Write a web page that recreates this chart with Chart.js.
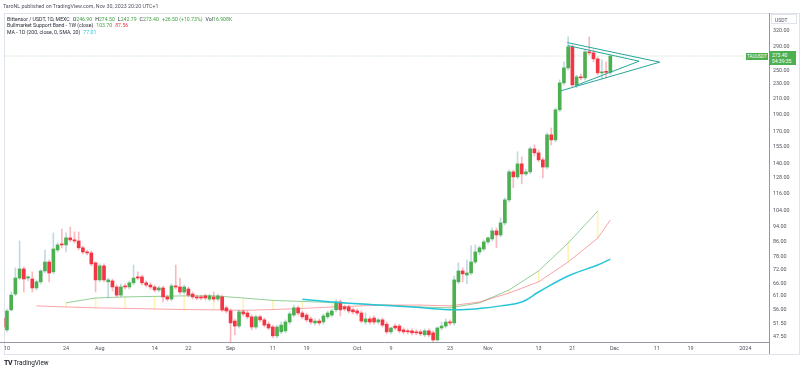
<!DOCTYPE html>
<html>
<head>
<meta charset="utf-8">
<title>TAOUSDT 1D</title>
<script src="https://cdn.jsdelivr.net/npm/chart.js@4.4.0/dist/chart.umd.min.js"></script>
<style>
  body { margin: 0; background: #fff; font-family: Roboto, "Noto Sans", sans-serif; }
  #wrap { position: relative; width: 800px; height: 370px; overflow: hidden; }
  #chart { position: absolute; left: 0; top: 0; }
  .txt { position: absolute; white-space: nowrap; color: #2a2e39; font-size: 5.2px; line-height: 7px; }
  .txt .g { margin-left: 3px; }
  .up { color: #43a047; }
  .dn { color: #f23645; }
  .ma { color: #26c6da; }
  .box { position: absolute; background: #4caf50; color: #fff; text-align: center; }
</style>
</head>
<body>
<div id="wrap">
  <canvas id="chart" width="800" height="370"></canvas>
  <div class="txt" style="left:3px;top:2.5px;font-size:5.3px;color:#50535e">TaroNL published on TradingView.com, Nov 30, 2023 20:20 UTC+1</div>
  <div class="txt" style="left:7px;top:15.5px">Bittensor / USDT, 1D, MEXC<span class="g">O<span class="up">246.90</span></span><span class="g">H<span class="up">274.50</span></span><span class="g">L<span class="up">242.79</span></span><span class="g">C<span class="up">273.40</span></span><span class="g up">+26.50 (+10.73%)</span><span class="g">Vol<span class="up">16.908K</span></span></div>
  <div class="txt" style="left:7px;top:22px">Bullmarket Support Band - 1W (close)<span class="g up">103.70</span><span class="g dn">87.56</span></div>
  <div class="txt" style="left:7px;top:29px">MA - 1D (200, close, 0, SMA, 20)<span class="g ma">77.01</span></div>
  <div class="txt" style="left:771px;top:14px;width:26px;height:10px;line-height:10px;border:1px solid #e0e3eb;box-sizing:border-box;padding-left:3px;font-size:5px;color:#50535e">USDT</div>
  <div class="box" style="left:746px;top:52.5px;width:22px;height:7px;line-height:7px;font-size:4.6px">TAOUSDT</div>
  <div class="box" style="left:769px;top:50.5px;width:27px;height:14px;font-size:5px;line-height:6px;padding-top:1px;box-sizing:border-box;text-align:left;padding-left:3px">273.40<br>04:39:35</div>
  <div class="txt" style="left:4px;top:358.5px;font-size:6.4px;line-height:8px;color:#131722"><b style="font-size:7px;letter-spacing:-0.5px">TV</b> TradingView</div>
</div>
<script>
// TAO / USDT daily candles, first candle is Jul 9 2023
const candleStart = '2023-07-09';
const opens = [53.2, 49.4, 56.0, 61.8, 68.3, 72.3, 68.3, 67.9, 64.2, 66.7, 71.4, 75.5, 71.0, 81.4, 84.5, 84.0, 87.8, 86.7, 86.1, 82.5,
  80.4, 79.9, 75.1, 67.5, 73.7, 66.7, 67.1, 64.6, 61.4, 65.0, 64.6, 66.3, 68.8, 68.8, 66.3, 65.4, 64.6, 63.4, 64.2, 60.7,
  59.9, 65.0, 64.6, 62.6, 63.8, 61.8, 60.7, 60.7, 61.1, 59.9, 60.7, 59.9, 60.7, 56.7, 55.6, 52.2, 50.6, 55.3, 54.9, 53.6,
  50.3, 53.6, 52.6, 51.2, 50.3, 47.6, 48.8, 49.1, 51.9, 54.2, 56.7, 54.9, 54.2, 52.9, 51.6, 52.2, 51.9, 53.6, 54.2, 56.0,
  58.8, 57.0, 57.0, 56.0, 55.6, 54.9, 51.9, 52.9, 53.2, 51.9, 52.6, 51.2, 48.8, 50.6, 50.6, 49.4, 49.1, 49.1, 48.8, 48.8,
  47.9, 49.1, 48.5, 46.4, 50.0, 50.6, 51.9, 51.6, 66.7, 71.4, 69.6, 70.5, 75.5, 80.4, 81.9, 85.6, 87.2, 91.7, 89.4, 96.4,
  111.3, 132.6, 128.5, 139.4, 130.9, 132.6, 153.1, 149.3, 142.9, 136.7, 167.1, 161.9, 195.4, 231.2, 253.9, 289.6, 228.3, 240.1, 238.6, 280.6,
  278.9, 268.6, 246.1, 247.7, 246.9];
const highs = [53.9, 56.3, 62.6, 72.8, 86.1, 73.2, 69.2, 71.0, 67.5, 71.9, 81.4, 76.4, 90.6, 85.0, 92.8, 90.6, 94.0, 91.1, 91.1, 83.5,
  81.4, 80.9, 75.5, 74.6, 74.6, 68.3, 67.9, 65.4, 65.9, 65.9, 67.1, 74.1, 71.0, 69.6, 67.1, 66.3, 65.4, 65.0, 65.0, 61.4,
  65.9, 74.1, 68.3, 65.4, 64.6, 62.6, 61.4, 61.4, 61.8, 61.8, 62.6, 61.8, 61.4, 57.4, 56.3, 52.9, 56.0, 56.0, 55.6, 54.2,
  54.2, 54.2, 53.2, 51.9, 50.9, 50.9, 51.9, 52.6, 55.3, 57.7, 57.4, 55.6, 54.9, 53.6, 52.9, 52.9, 54.6, 55.6, 56.3, 59.6,
  59.6, 57.7, 57.7, 56.7, 56.3, 55.6, 54.9, 53.6, 53.9, 53.2, 53.2, 51.9, 50.3, 51.2, 51.2, 50.0, 49.7, 49.7, 49.4, 49.4,
  49.7, 49.7, 49.1, 50.3, 51.9, 52.9, 52.6, 69.2, 75.1, 72.8, 76.4, 83.5, 84.0, 83.5, 86.7, 88.3, 93.4, 93.4, 99.5, 112.7,
  134.2, 134.2, 150.3, 145.6, 135.0, 155.0, 156.9, 152.1, 144.7, 169.2, 174.5, 197.8, 235.6, 263.7, 308.3, 293.2, 243.0, 244.6, 284.2, 308.3,
  284.2, 272.0, 266.9, 263.7, 274.5];
const lows = [49.7, 48.8, 55.6, 61.1, 67.5, 62.6, 67.1, 62.6, 63.4, 65.9, 70.5, 66.7, 70.1, 80.4, 82.5, 80.4, 85.6, 85.0, 81.4, 79.4,
  78.9, 73.7, 62.6, 66.7, 66.7, 60.3, 63.0, 60.7, 60.7, 63.8, 63.8, 65.4, 67.5, 65.4, 64.6, 63.8, 62.6, 62.6, 58.8, 59.2,
  59.2, 63.8, 61.8, 61.8, 60.7, 59.9, 59.6, 59.6, 59.6, 59.2, 59.2, 59.2, 55.3, 54.9, 45.8, 47.9, 50.0, 53.9, 52.9, 49.4,
  49.7, 51.9, 50.3, 49.4, 47.0, 47.0, 48.2, 48.5, 51.2, 53.6, 54.2, 52.9, 51.9, 51.2, 50.9, 50.9, 51.2, 52.9, 53.6, 55.3,
  53.9, 55.6, 54.9, 54.6, 54.2, 51.6, 51.2, 51.2, 51.2, 51.2, 50.3, 48.2, 48.2, 49.4, 48.5, 48.2, 48.2, 47.9, 47.9, 47.6,
  47.3, 47.3, 45.8, 46.1, 49.4, 50.0, 50.9, 50.9, 65.9, 66.7, 65.9, 69.6, 74.6, 78.9, 80.9, 84.5, 86.1, 82.5, 88.3, 95.2,
  109.9, 120.0, 126.9, 123.0, 129.3, 130.9, 146.5, 141.1, 127.7, 135.0, 156.9, 159.9, 192.9, 228.3, 250.8, 225.5, 224.1, 235.6, 235.6, 275.4,
  263.7, 243.0, 237.1, 238.6, 242.79];
const closes = [50.3, 55.6, 61.4, 68.3, 72.3, 67.9, 68.8, 64.2, 66.7, 71.4, 75.5, 70.5, 81.9, 84.0, 84.0, 87.8, 86.7, 86.1, 82.5, 80.4,
  79.9, 74.6, 67.5, 73.7, 67.5, 67.5, 64.6, 61.4, 64.6, 64.6, 66.3, 68.3, 68.3, 66.3, 65.4, 64.6, 63.4, 64.2, 60.7, 59.9,
  65.0, 64.6, 62.6, 64.6, 61.4, 60.7, 60.3, 60.3, 60.3, 61.1, 59.9, 61.1, 56.0, 55.6, 51.6, 50.6, 55.3, 54.6, 53.6, 50.3,
  53.6, 52.6, 50.9, 50.0, 47.6, 50.3, 50.9, 51.9, 54.6, 56.7, 54.9, 53.6, 52.6, 51.9, 52.2, 51.6, 53.9, 54.9, 55.6, 58.8,
  56.0, 56.3, 55.6, 55.3, 54.9, 52.2, 52.9, 51.9, 51.9, 52.6, 50.9, 48.8, 50.0, 50.0, 49.1, 48.8, 48.8, 48.5, 48.5, 48.2,
  49.1, 47.9, 46.4, 50.0, 50.6, 51.9, 51.6, 67.5, 71.4, 70.1, 70.5, 75.5, 80.4, 82.5, 85.6, 87.8, 91.7, 89.4, 96.4, 111.3,
  132.6, 128.5, 139.4, 130.9, 132.6, 153.1, 149.3, 142.9, 136.7, 167.1, 161.9, 195.4, 231.2, 253.9, 289.6, 228.3, 240.1, 238.6, 280.6, 278.9,
  268.6, 246.1, 247.7, 246.9, 273.4];

// time axis labels
const tickDates = ['2023-07-10', '2023-07-24', '2023-08-01', '2023-08-14', '2023-08-22', '2023-09-01', '2023-09-11', '2023-09-19', '2023-10-01',
  '2023-10-09', '2023-10-23', '2023-11-01', '2023-11-13', '2023-11-21', '2023-12-01', '2023-12-11', '2023-12-19', '2024-01-01'];
const tickLabels = ['10', '24', 'Aug', '14', '22', 'Sep', '11', '19', 'Oct', '9', '23', 'Nov', '13', '21', 'Dec', '11', '19', '2024'];

// price axis labels
const priceTicks = [47.5, 51.5, 56, 61, 66, 72, 78, 86, 94, 104, 116, 128, 140, 155, 170, 190, 210, 230, 250, 290, 320];
const lastPrice = 273.4;

// Bullmarket Support Band, weekly points starting Mon Jul 17
const bandStart = '2023-07-17';
const bandGreen = [null, 58.5, 60.3, 60.7, 60.9, 61.1, 61.1, 60.3, 59.4, 59.0, 58.6, 58.1, 57.6, 57.0, 56.7, 58.5, 63.4, 71.4, 85.0, 103.7];
const bandRed = [57.4, 57.0, 56.7, 56.5, 56.3, 56.1, 56.0, 55.8, 56.1, 56.5, 57.0, 57.4, 57.7, 57.7, 57.4, 58.8, 62.2, 66.7, 75.5, 87.6];
// running value of the red band on the last bar
const bandRedLiveDate = '2023-11-30';
const bandRedLive = 98.2;

// MA 200 (daily)
const maDates = ['2023-09-18', '2023-09-25', '2023-10-07', '2023-10-15', '2023-10-24', '2023-10-31', '2023-11-04', '2023-11-09',
  '2023-11-13', '2023-11-20', '2023-11-27', '2023-11-30'];
const maValues = [59.8, 58.8, 57.6, 56.9, 56.0, 56.6, 57.4, 58.8, 62.6, 69.2, 74.1, 76.9];

// triangle drawings: [day offset from Jul 10, price]
const triOuterDays = [132.8, 154.7, 131.2];
const triOuterPrices = [297.4, 263.2, 219.9];
const triInnerDays = [132.9, 149.8, 134.6];
const triInnerPrices = [292.0, 264.8, 226.9];

const UP = '#4caf50';
const DOWN = '#f23645';
const DAY = 86400000;
const origin = Date.parse('2023-07-10');
const dayOf = (d) => (Date.parse(d) - origin) / DAY;

const firstDay = dayOf(candleStart);
const isUp = (i) => closes[i] >= opens[i];

const wickData = opens.map((o, i) => ({ x: firstDay + i, y: [lows[i], highs[i]] }));
const bodyData = opens.map((o, i) => ({ x: firstDay + i, y: [o, closes[i]] }));

const bandDay0 = dayOf(bandStart);
const greenLine = bandGreen.map((v, i) => ({ x: bandDay0 + 7 * i, y: v }));
const redLine = bandRed.map((v, i) => ({ x: bandDay0 + 7 * i, y: v }));
redLine.push({ x: dayOf(bandRedLiveDate), y: bandRedLive });
const bandFill = bandRed.map((v, i) => ({ x: bandDay0 + 7 * i, y: bandGreen[i] == null ? null : [v, bandGreen[i]] }))
  .filter(p => p.y !== null);
const maLine = maDates.map((d, i) => ({ x: dayOf(d), y: maValues[i] }));

const framePlugin = {
  id: 'frame',
  beforeDraw(chart) {
    const ctx = chart.ctx;
    const a = chart.chartArea;
    ctx.save();
    ctx.fillStyle = '#fff';
    ctx.fillRect(0, 0, chart.width, chart.height);
    ctx.lineWidth = 1;
    ctx.strokeStyle = '#e0e3eb';
    ctx.strokeRect(a.left + 0.5, a.top + 0.5, 799 - a.left, 354 - a.top);
    ctx.strokeStyle = '#9598a1';
    ctx.beginPath();
    ctx.moveTo(0, a.bottom + 0.5);
    ctx.lineTo(a.right, a.bottom + 0.5);
    ctx.moveTo(a.right + 0.5, a.top);
    ctx.lineTo(a.right + 0.5, 354);
    ctx.stroke();
    ctx.restore();
  }
};

const ctx = document.getElementById('chart').getContext('2d');
new Chart(ctx, {
  type: 'bar',
  data: {
    datasets: [
      {
        type: 'line',
        data: [{ x: -2, y: lastPrice }, { x: 182, y: lastPrice }],
        borderColor: 'rgba(76,175,80,0.45)',
        borderWidth: 1,
        borderDash: [1, 2],
        pointRadius: 0,
        order: 6
      },
      {
        data: bandFill,
        backgroundColor: 'rgba(255,232,110,0.5)',
        barThickness: 1,
        grouped: false,
        order: 5
      },
      {
        type: 'line',
        data: redLine,
        borderColor: 'rgba(242,54,69,0.45)',
        borderWidth: 1,
        pointRadius: 0,
        order: 4
      },
      {
        type: 'line',
        data: greenLine,
        borderColor: 'rgba(76,175,80,0.6)',
        borderWidth: 1,
        pointRadius: 0,
        order: 4
      },
      {
        data: wickData,
        backgroundColor: (c) => isUp(c.dataIndex) ? 'rgba(120,170,190,0.45)' : 'rgba(242,54,69,0.35)',
        barThickness: 1,
        grouped: false,
        order: 3
      },
      {
        data: bodyData,
        backgroundColor: (c) => isUp(c.dataIndex) ? UP : DOWN,
        barThickness: 3,
        minBarLength: 1,
        grouped: false,
        order: 2
      },
      {
        type: 'line',
        data: maLine,
        borderColor: '#26c6da',
        borderWidth: 1.5,
        tension: 0.4,
        pointRadius: 0,
        order: 1
      },
      {
        type: 'line',
        data: triOuterDays.map((d, i) => ({ x: d, y: triOuterPrices[i] })),
        borderColor: '#26a69a',
        borderWidth: 1,
        pointRadius: 0,
        order: 0
      },
      {
        type: 'line',
        data: triInnerDays.map((d, i) => ({ x: d, y: triInnerPrices[i] })),
        borderColor: '#26a69a',
        borderWidth: 1,
        pointRadius: 0,
        order: 0
      }
    ]
  },
  options: {
    responsive: false,
    animation: false,
    devicePixelRatio: 1,
    layout: { padding: { left: 4, top: 13, right: 0, bottom: 0 } },
    plugins: { legend: { display: false }, tooltip: { enabled: false } },
    datasets: { bar: { clip: 0 }, line: { clip: 0 } },
    scales: {
      x: {
        type: 'linear',
        min: -0.7,
        max: 180.6,
        offset: false,
        grid: { display: false, offset: false, drawTicks: false },
        border: { display: false },
        afterBuildTicks: (axis) => { axis.ticks = tickDates.map(d => ({ value: dayOf(d) })); },
        afterFit: (axis) => { axis.height = 28; },
        ticks: {
          autoSkip: false,
          maxRotation: 0,
          minRotation: 0,
          padding: 3,
          color: '#50535e',
          font: { family: 'Roboto', size: 5.4 },
          callback: (v, i) => tickLabels[i]
        }
      },
      y: {
        type: 'logarithmic',
        position: 'right',
        min: 45.8,
        max: 357.8,
        grid: { display: false, drawTicks: false },
        border: { display: false },
        afterBuildTicks: (axis) => { axis.ticks = priceTicks.map(v => ({ value: v })); },
        afterFit: (axis) => { axis.width = 31; },
        ticks: {
          autoSkip: false,
          padding: 4,
          color: '#50535e',
          font: { family: 'Roboto', size: 5.4 },
          callback: (v) => Number(v).toFixed(2)
        }
      }
    }
  },
  plugins: [framePlugin]
});
</script>
</body>
</html>
